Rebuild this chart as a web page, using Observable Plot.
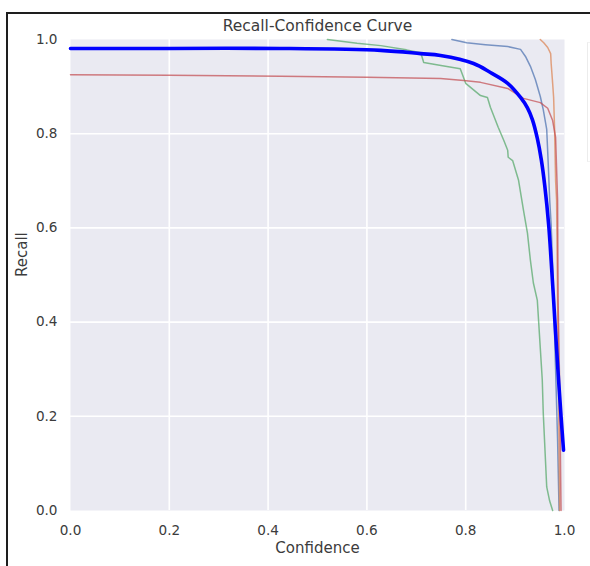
<!DOCTYPE html>
<html>
<head>
<meta charset="utf-8">
<script src="https://cdn.jsdelivr.net/npm/d3@7"></script>
<script src="https://cdn.jsdelivr.net/npm/@observablehq/plot@0.6"></script>
<style>
  html, body { margin: 0; padding: 0; background: #fff; }
  #wrap { position: relative; width: 590px; height: 566px; overflow: hidden; font-family: "DejaVu Sans", sans-serif; }
  #frame { position: absolute; left: 6px; top: 12px; width: 700px; height: 700px; border-top: 2px solid #1e1e1e; border-left: 2px solid #1e1e1e; box-sizing: border-box; }
  #legendEdge { position: absolute; left: 587px; top: 42px; width: 10px; height: 118px; border-left: 1px solid #ececec; border-top: 1px solid #f2f2f2; border-bottom: 1px solid #f2f2f2; }
  #chart { position: absolute; left: 0; top: 0; }
</style>
</head>
<body>
<div id="wrap">
  <div id="frame"></div>
  <div id="legendEdge"></div>
  <div id="chart"></div>
</div>
<script>
// ---- data ----
const title = "Recall-Confidence Curve";
const xLabel = "Confidence";
const yLabel = "Recall";
const xTicks = [0, 0.2, 0.4, 0.6, 0.8, 1.0];
const yTicks = [0, 0.2, 0.4, 0.6, 0.8, 1.0];

// class 0 (steel blue)
const c0Conf   = [0.772, 0.802, 0.840, 0.885, 0.911, 0.921, 0.931, 0.941, 0.951, 0.957, 0.964, 0.967, 0.970, 0.973, 0.976, 0.978, 0.982, 0.986, 0.989];
const c0Recall = [1.000, 0.993, 0.989, 0.985, 0.979, 0.964, 0.943, 0.915, 0.879, 0.851, 0.809, 0.738, 0.660, 0.606, 0.520, 0.447, 0.300, 0.150, 0.000];

// class 1 (orange)
const c1Conf   = [0.951, 0.958, 0.966, 0.972, 0.973, 0.976, 0.978, 0.980, 0.982, 0.984, 0.986, 0.988, 0.990];
const c1Recall = [1.000, 0.993, 0.983, 0.970, 0.949, 0.907, 0.877, 0.807, 0.700, 0.659, 0.450, 0.250, 0.000];

// class 2 (green)
const c2Conf   = [0.520, 0.580, 0.628, 0.680, 0.709, 0.715, 0.750, 0.789, 0.800, 0.830, 0.844, 0.850, 0.866, 0.877, 0.885, 0.886, 0.895, 0.907, 0.917, 0.925, 0.931, 0.937, 0.945, 0.955, 0.957, 0.964, 0.970, 0.976];
const c2Recall = [1.000, 0.992, 0.987, 0.978, 0.972, 0.951, 0.945, 0.938, 0.907, 0.881, 0.877, 0.856, 0.813, 0.786, 0.765, 0.750, 0.743, 0.701, 0.637, 0.589, 0.531, 0.483, 0.446, 0.277, 0.207, 0.050, 0.020, 0.000];

// class 3 (red)
const c3Conf   = [0.000, 0.200, 0.425, 0.600, 0.749, 0.796, 0.830, 0.885, 0.917, 0.951, 0.966, 0.976, 0.982, 0.986, 0.987, 0.990, 0.993];
const c3Recall = [0.925, 0.924, 0.922, 0.920, 0.917, 0.913, 0.909, 0.896, 0.875, 0.866, 0.854, 0.828, 0.792, 0.659, 0.446, 0.277, 0.000];

// all classes (thick blue)
const allConf   = [0.000, 0.200, 0.424, 0.628, 0.709, 0.749, 0.816, 0.850, 0.885, 0.911, 0.925, 0.935, 0.945, 0.953, 0.960, 0.968, 0.973, 0.978, 0.983, 0.988, 0.993, 0.998];
const allRecall = [0.981, 0.981, 0.981, 0.977, 0.970, 0.966, 0.949, 0.930, 0.907, 0.877, 0.855, 0.830, 0.790, 0.745, 0.690, 0.606, 0.530, 0.446, 0.360, 0.277, 0.200, 0.128];

const seriesNames  = ["class0", "class1", "class2", "class3", "all classes"];
const seriesColors = ["#4C72B0", "#DD8452", "#55A868", "#C44E52", "#0000FF"];

// ---- build tables ----
function rows(name, xs, ys) { return xs.map((x, i) => ({name, conf: x, recall: ys[i]})); }
const classRows = [
  rows("class0", c0Conf, c0Recall),
  rows("class1", c1Conf, c1Recall),
  rows("class2", c2Conf, c2Recall),
  rows("class3", c3Conf, c3Recall)
];
const allRows = rows("all classes", allConf, allRecall);

const fmt = d3.format(".1f");
const textColor = "#3c3c3c";

const marks = [
  Plot.frame({fill: "#EAEAF2", stroke: "none"}),
  Plot.gridX([0.2, 0.4, 0.6, 0.8], {stroke: "#ffffff", strokeOpacity: 1, strokeWidth: 1.6}),
  Plot.gridY([0.2, 0.4, 0.6, 0.8], {stroke: "#ffffff", strokeOpacity: 1, strokeWidth: 1.6}),
  ...classRows.map((r, i) => Plot.line(r, {x: "conf", y: "recall", stroke: seriesColors[i], strokeWidth: 1.5, strokeOpacity: 0.72, curve: "linear"})),
  Plot.line(allRows, {x: "conf", y: "recall", stroke: seriesColors[4], strokeWidth: 3.6, curve: "catmull-rom"}),
  Plot.text([title], {frameAnchor: "top", lineAnchor: "middle", dy: -13, fontSize: 15.5, fill: textColor, text: d => d}),
  Plot.text([xLabel], {frameAnchor: "bottom", lineAnchor: "middle", dy: 38, fontSize: 15, fill: textColor, text: d => d}),
  Plot.text([yLabel], {frameAnchor: "left", lineAnchor: "middle", dx: -48, dy: 2, rotate: -90, fontSize: 15, fill: textColor, text: d => d})
];

const chart = Plot.plot({
  width: 590,
  height: 566,
  marginLeft: 70,
  marginRight: 26,
  marginTop: 39,
  marginBottom: 56,
  style: {background: "transparent", fontFamily: "DejaVu Sans, sans-serif", fontSize: "13.6px", color: textColor, overflow: "visible"},
  x: {domain: [0, 1], ticks: xTicks, tickFormat: fmt, tickSize: 0, tickPadding: 15, label: null},
  y: {domain: [0, 1], ticks: yTicks, tickFormat: fmt, tickSize: 0, tickPadding: 13, label: null},
  marks
});
document.getElementById("chart").appendChild(chart);
</script>
</body>
</html>
